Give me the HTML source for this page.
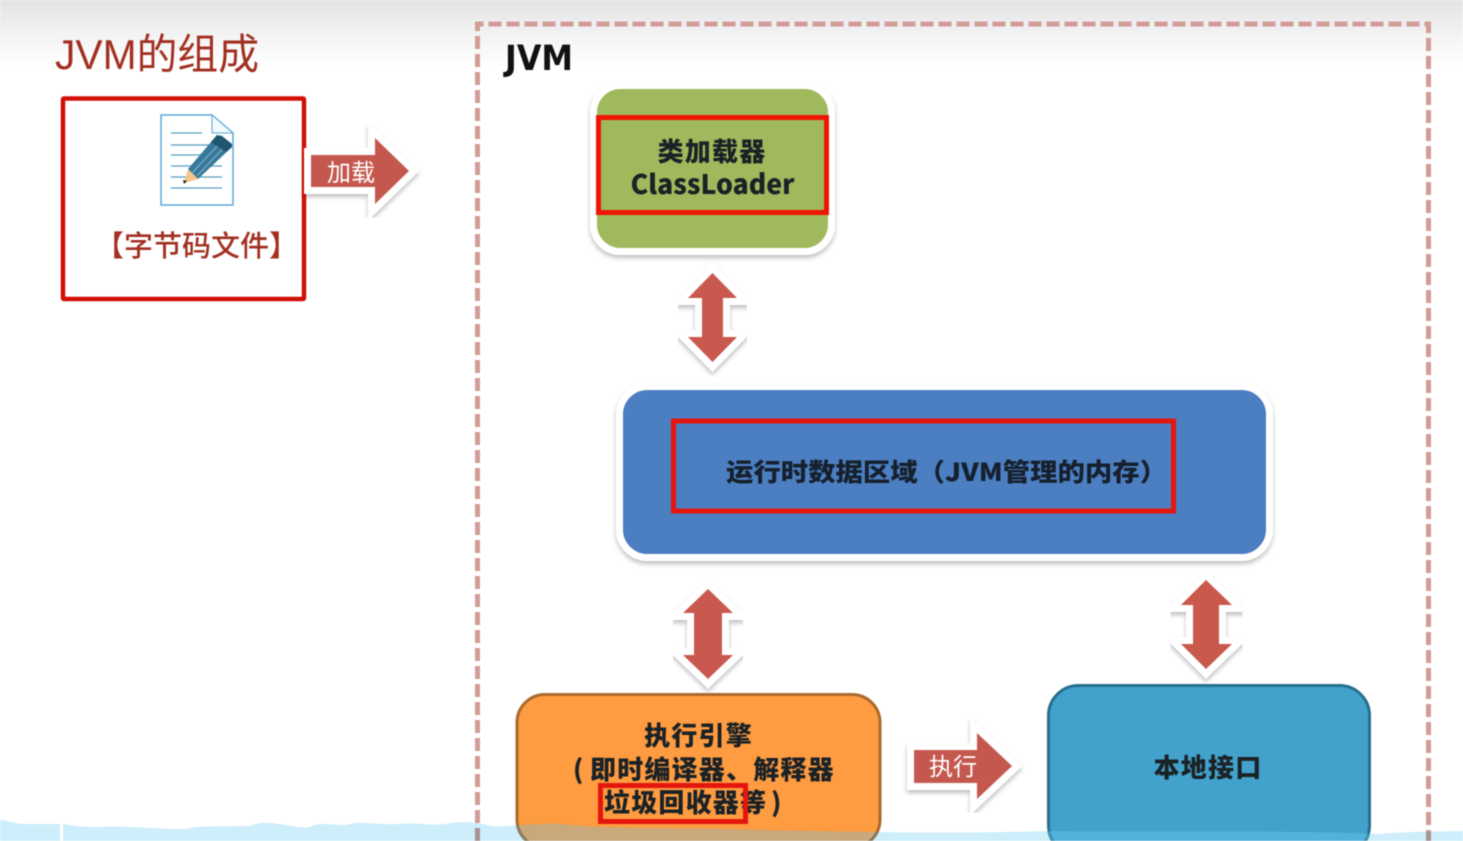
<!DOCTYPE html>
<html><head><meta charset="utf-8"><style>
html,body{margin:0;padding:0;background:#fff;width:1463px;height:841px;overflow:hidden}
svg{display:block;filter:blur(.4px)}
text{font-family:"Liberation Sans","Noto Sans CJK SC",sans-serif}
.b{font-family:"Noto Sans CJK SC","Liberation Sans",sans-serif;font-weight:900;fill:#1b2226;font-size:26px;text-anchor:middle}
.s{text-anchor:start}
.w{font-family:"Noto Sans CJK SC",sans-serif;fill:#fff;font-size:24px;text-anchor:middle}
.o{stroke:#fff;stroke-width:14;stroke-miterlimit:10}
</style></head><body>
<svg width="1463" height="841" viewBox="0 0 1463 841" xmlns="http://www.w3.org/2000/svg">
<defs>
<linearGradient id="top" x1="0" y1="0" x2="0" y2="1"><stop offset="0" stop-color="#e4e4e4"/><stop offset=".6" stop-color="#f5f5f5"/><stop offset="1" stop-color="#fff"/></linearGradient>
<filter id="sh" x="-20%" y="-20%" width="140%" height="140%"><feDropShadow dx="0" dy="3" stdDeviation="2.5" flood-color="#000" flood-opacity=".25"/></filter>
<clipPath id="water"><path d="M0 820 C8 820 14 824 24 824 L60 824 L60 841 L0 841 Z M63 824 C75 826 85 827 100 827 C120 825 150 829 185 829 C200 825 225 827 250 826 C262 821 272 823 285 825 C295 826 305 830 315 825 C325 822 340 827 350 824 C362 821 375 825 400 824 C415 822 430 826 445 824 C460 821 480 822 490 826 C505 828 520 823 560 824 C620 830 680 827 760 830 C860 832 950 834 1050 831 C1150 832 1300 830 1380 834 C1410 831 1440 832 1463 831 L1463 841 L63 841 Z"/></clipPath>
</defs>
<rect width="1463" height="841" fill="#fff"/>
<rect width="1463" height="66" fill="url(#top)"/>

<!-- title -->
<text x="55" y="69" font-size="42" fill="#a23022" textLength="204" lengthAdjust="spacingAndGlyphs">JVM的组成</text>

<!-- bytecode box -->
<rect x="63" y="98.500" width="241" height="200.500" fill="#fff" stroke="#d20f05" stroke-width="4.500" rx="1"/>
<!-- doc icon -->
<path d="M161 115 H212 L233 133 V205 H161 Z" fill="#fff" stroke="#5aa9d6" stroke-width="1.500"/>
<path d="M212 115 V133 H233 Z" fill="#f3f9fc" stroke="#5aa9d6" stroke-width="1"/>
<path d="M171 133 H202 M171 145 H222 M171 155 H222 M171 166 H222 M171 177 H222 M171 188 H222" stroke="#5a9cc0" stroke-width="1.300"/>
<path d="M188 169 L217 135 L232 147 L198 179 Z" fill="#37799a"/>
<path d="M192.500 172.500 L223 140 M197 176 L227 144" stroke="#7fb0c6" stroke-width="1.200"/>
<path d="M217 135 L222 136 L232 144 L232 147 L226 152 L211 142 Z" fill="#20566f"/>
<path d="M188 169 L198 179 L191 181 L184 183 Z" fill="#f5c58a"/>
<path d="M183 180 L187 181 L184 184 Z" fill="#222"/>
<text x="196.500" y="256" font-size="29" fill="#a23022" text-anchor="middle" style="font-family:'Noto Sans CJK SC',sans-serif;font-weight:500">【字节码文件】</text>

<!-- load arrow -->
<path class="o" d="M311 155 H375 V138 L409 171 L375 204 V187 H311 Z" fill="#c4584e" filter="url(#sh)"/>
<path d="M311 155 H375 V138 L409 171 L375 204 V187 H311 Z" fill="#c4584e"/>
<text class="w" x="351" y="181">加载</text>

<!-- JVM dashed -->
<path d="M477.500 841 V24 H1428.500 V841" fill="none" stroke="#d29c96" stroke-width="5" stroke-dasharray="13 5"/>
<text x="505" y="70" font-size="35" font-weight="700" fill="#111" style="font-family:'DejaVu Sans',sans-serif" textLength="68" lengthAdjust="spacingAndGlyphs">JVM</text>

<!-- green -->
<rect x="593.500" y="85.500" width="238" height="166" rx="27" fill="#a0b95c" stroke="#fff" stroke-width="7" filter="url(#sh)"/>
<rect x="598.500" y="117.500" width="228" height="95" fill="none" stroke="#ee1505" stroke-width="5"/>
<text class="b" x="712" y="161" letter-spacing="1.200">类加载器</text>
<text class="b" x="712.500" y="194" style="font-size:27px" textLength="164" lengthAdjust="spacingAndGlyphs">ClassLoader</text>

<!-- double arrow 1 -->
<path class="o" d="M712.500 273 L737 298 H723 V337 H737 L712.500 362 L688 337 H702 V298 H688 Z" fill="#c9594f" filter="url(#sh)"/>
<path d="M712.500 273 L737 298 H723 V337 H737 L712.500 362 L688 337 H702 V298 H688 Z" fill="#c9594f"/>

<!-- blue -->
<rect x="619.500" y="386.500" width="650" height="171" rx="28" fill="#4c7fc2" stroke="#fff" stroke-width="7" filter="url(#sh)"/>
<rect x="673.500" y="421" width="500" height="90" fill="none" stroke="#e4160d" stroke-width="5"/>
<text class="b s" x="726" y="481" style="font-size:25px;fill:#16202e" textLength="441" lengthAdjust="spacingAndGlyphs">运行时数据区域（JVM管理的内存）</text>

<!-- double arrow 2 -->
<path class="o" d="M708 589 L733 613 H722 V655 H733 L708 679 L683 655 H694 V613 H683 Z" fill="#c9594f" filter="url(#sh)"/>
<path d="M708 589 L733 613 H722 V655 H733 L708 679 L683 655 H694 V613 H683 Z" fill="#c9594f"/>

<!-- double arrow 3 -->
<path class="o" d="M1206 580 L1232 605 H1219 V644 H1232 L1206 669 L1181 644 H1193 V605 H1181 Z" fill="#c9594b" filter="url(#sh)"/>
<path d="M1206 580 L1232 605 H1219 V644 H1232 L1206 669 L1181 644 H1193 V605 H1181 Z" fill="#c9594b"/>

<!-- orange -->
<rect x="517" y="694.500" width="363" height="153" rx="28" fill="#ff9b40" stroke="#ab6a2e" stroke-width="3"/>
<text class="b" x="698.500" y="745" letter-spacing="1.200">执行引擎</text>
<text class="b s" x="573" y="779">(</text>
<text class="b s" x="590" y="779" letter-spacing="1.200">即时编译器、解释器</text>
<text class="b s" x="604" y="812" letter-spacing="1.200">垃圾回收器等</text>
<text class="b s" x="771" y="812">)</text>
<rect x="600.500" y="785.500" width="145" height="36" fill="none" stroke="#e4160d" stroke-width="5"/>

<!-- exec arrow -->
<path class="o" d="M914 750 H977 V733 L1012 766 L977 799 V783 H914 Z" fill="#c4584e" filter="url(#sh)"/>
<path d="M914 750 H977 V733 L1012 766 L977 799 V783 H914 Z" fill="#c4584e"/>
<text class="w" x="953" y="775">执行</text>

<!-- teal -->
<rect x="1048.500" y="685.500" width="321" height="170" rx="30" fill="#42a2cc" stroke="#27708d" stroke-width="3"/>
<text class="b" x="1208" y="777" letter-spacing="1.200">本地接口</text>

<!-- water -->
<rect x="0" y="810" width="1463" height="31" fill="#cdeefa" clip-path="url(#water)" style="mix-blend-mode:multiply"/>
<g clip-path="url(#water)"><rect x="517" y="694.500" width="363" height="153" rx="28" fill="#c9a97c" stroke="#8e7a58" stroke-width="3"/></g>
<g clip-path="url(#water)"><rect x="1048.500" y="685.500" width="321" height="170" rx="30" fill="#52b2dc" stroke="#3f8fb4" stroke-width="3"/></g>
</svg>
</body></html>
